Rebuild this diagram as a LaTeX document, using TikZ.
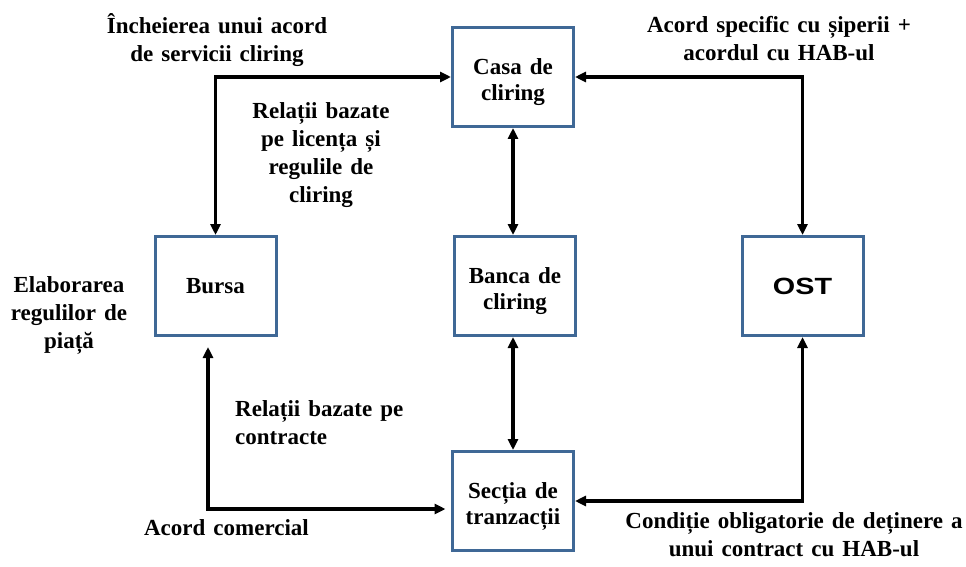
\documentclass[tikz,border=0pt]{standalone}
\usepackage{fontspec}
\usepackage{graphicx}
\setmainfont{Liberation Serif}[WordSpace=1.4]
\newfontfamily\ostfont{Liberation Sans}
\usetikzlibrary{arrows.meta}
\definecolor{boxblue}{HTML}{3F6896}
\newcommand\boxstrut{\rule{0pt}{27pt}}
\begin{document}
\begin{tikzpicture}[x=1pt,y=-1pt,
  box/.style={draw=boxblue, line width=3pt, minimum width=121pt, minimum height=99pt,
    align=center, font=\fontsize{23}{26}\selectfont\bfseries, inner sep=0pt},
  lbl/.style={align=center, font=\fontsize{23}{28}\selectfont\bfseries, inner sep=0pt},
  conn/.style={line width=3.2pt, {Triangle[width=10pt,length=11pt]}-{Triangle[width=10pt,length=11pt]}}]
\useasboundingbox (0,0) rectangle (966,567);

\node[box] (casa) at (513,77) {\boxstrut Casa de\\cliring};
\node[box] (bursa) at (215.5,286) {Bursa};
\node[box] (banca) at (515,286) {\boxstrut Banca de\\cliring};
\node[box] (ost) at (802.5,286) {\ostfont\scalebox{1.25}[1.02]{OST}};
\node[box] (sectia) at (513,501) {\boxstrut Secția de\\tranzacții};

\draw[conn] (casa.west) -| (bursa.north);
\draw[conn] (casa.east) -| (ost.north);
\draw[conn] (casa.south) -- (casa.south |- banca.north);
\draw[conn] (casa.south |- banca.south) -- (casa.south |- sectia.north);
\draw[conn] ([xshift=-7.5pt,yshift=-10pt]bursa.south) |- ([xshift=-5.5pt,yshift=-8pt]sectia.west);
\draw[conn] (ost.south) |- (sectia.east);

\node[lbl] (l1) at (217,40.5) {Încheierea unui acord\\de servicii cliring};
\node[lbl] (l2) at (321,155) {Relații bazate\\pe licența și\\regulile de\\cliring};
\node[lbl] (l3) at (779,38.5) {Acord specific cu șiperii +\\acordul cu HAB-ul};
\node[lbl] (l4) at (69,315) {Elaborarea\\regulilor de\\piață};
\node[lbl, align=left, anchor=west] (l5) at (235,423) {Relații bazate pe\\contracte};
\node[lbl, anchor=base] (l6) at (226.5,535) {Acord comercial};
\node[lbl] (l7) at (794,534.5) {Condiție obligatorie de deținere a\\unui contract cu HAB-ul};
\end{tikzpicture}
\end{document}
